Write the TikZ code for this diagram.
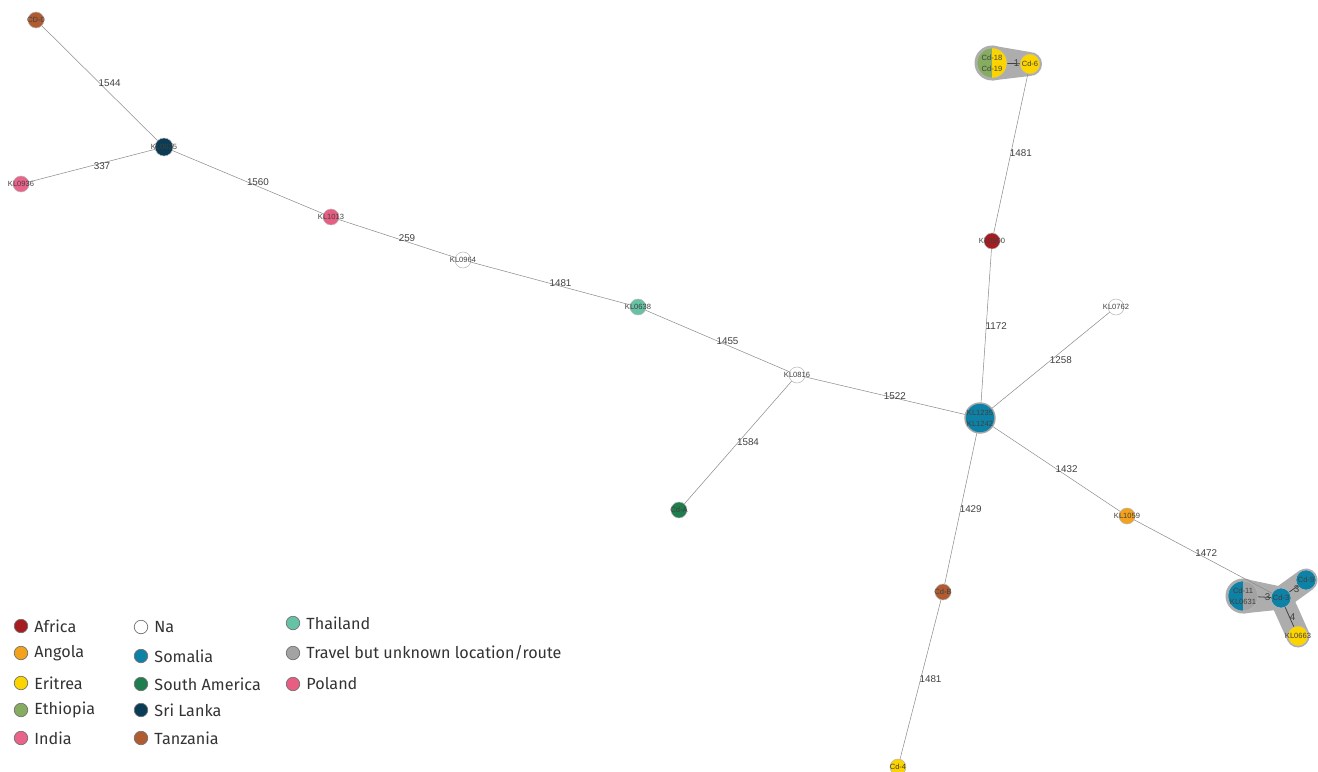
\documentclass[tikz,border=0pt]{standalone}
\usepackage{fontspec}
\setmainfont{Liberation Sans}
\newfontfamily\keyfamily{Fira Sans}
\usepackage{tikz}
\usetikzlibrary{positioning, backgrounds}

\definecolor{africa}{HTML}{A71C20}
\definecolor{angola}{HTML}{F4A11C}
\definecolor{eritrea}{HTML}{FCD400}
\definecolor{ethiopia}{HTML}{86AC62}
\definecolor{india}{HTML}{E9638A}
\definecolor{somalia}{HTML}{0E82A6}
\definecolor{southamerica}{HTML}{1F7D4E}
\definecolor{srilanka}{HTML}{0B3C55}
\definecolor{tanzania}{HTML}{B15B31}
\definecolor{thailand}{HTML}{66C2A5}
\definecolor{travel}{HTML}{A3A3A3}
\definecolor{poland}{HTML}{E75E82}

\newcommand{\nodefont}{\fontsize{4.3}{6.2}\selectfont}
\newcommand{\weightfont}{\fontsize{5.6}{6.5}\selectfont}
\newcommand{\keyfont}{\keyfamily\fontsize{9.2}{11}\selectfont}

\tikzstyle{isolate} = [circle, draw=black!28, line width=0.3pt, minimum size=0.32cm, inner sep=0pt]
\tikzstyle{midisolate} = [isolate, minimum size=0.4cm]
\tikzstyle{bigisolate} = [isolate, minimum size=0.6cm]
\tikzstyle{tag} = [font=\nodefont, text=black!75, inner sep=0pt, align=center]
\tikzstyle{link} = [draw=black!45, line width=0.3pt]
\tikzstyle{innerlink} = [draw=black!75, line width=0.45pt]
\tikzstyle{weight} = [font=\weightfont, text=black!75, inner sep=0.5pt, xshift=0.2cm]
\tikzstyle{innerweight} = [font=\weightfont, text=black!75, inner sep=0.5pt, xshift=0.06cm]
\tikzstyle{hull} = [fill=black!32]
\tikzstyle{keydot} = [circle, draw=black!55, line width=0.4pt, minimum size=0.27cm, inner sep=0pt]
\tikzstyle{keytext} = [font=\keyfont, text=black!80, inner sep=0pt]

\begin{document}
\begin{tikzpicture}[x=0.02cm, y=-0.02cm]
	\useasboundingbox (0,0) rectangle (1318,771);

	% left branch
	\node (cd0) [isolate, fill=tanzania, label={[tag]center:CD-0}] at (36,20) {};
	\node (kl0625) [isolate, minimum size=0.36cm, fill=srilanka, label={[tag]center:KL0625}] at (164,147) {};
	\node (kl0936) [isolate, fill=india, label={[tag]center:KL0936}] at (21,184) {};
	\node (kl1013) [isolate, fill=poland, label={[tag]center:KL1013}] at (331,217) {};
	\node (kl0964) [isolate, fill=white, label={[tag]center:KL0964}] at (463,260) {};
	\node (kl0638) [isolate, fill=thailand, label={[tag]center:KL0638}] at (638,307) {};
	\node (kl0816) [isolate, fill=white, label={[tag]center:KL0816}] at (797,375) {};
	\node (cdA) [isolate, fill=southamerica, label={[tag]center:Cd-A}] at (679,510) {};

	% centre and right branches
	\node (kl1235) [bigisolate, fill=somalia, draw=black!35, line width=0.8pt, label={[tag]center:KL1235\\KL1242}] at (980,418) {};
	\node (kl0900) [isolate, fill=africa, label={[tag]center:KL0900}] at (992,241) {};
	\node (kl0762) [isolate, fill=white, label={[tag]center:KL0762}] at (1116,307) {};
	\node (kl1059) [isolate, fill=angola, label={[tag]center:KL1059}] at (1127,516) {};
	\node (cdB) [isolate, fill=tanzania, label={[tag]center:Cd-B}] at (943,592) {};
	\node (cd4) [isolate, fill=eritrea, label={[tag]center:Cd-4}] at (898,767) {};

	% top cluster
	\node (cd18) [bigisolate, fill=ethiopia, path picture={\fill[eritrea] (path picture bounding box.north) rectangle (path picture bounding box.south east);}, label={[tag]center:Cd-18\\Cd-19}] at (992,63) {};
	\node (cd6) [midisolate, fill=eritrea, label={[tag]center:Cd-6}] at (1030,64) {};

	% bottom right cluster
	\node (cd11) [bigisolate, fill=travel, path picture={\fill[somalia] (path picture bounding box.north west) rectangle (path picture bounding box.south);}, label={[tag]center:Cd-11\\KL0631}] at (1243,596) {};
	\node (cd3) [midisolate, fill=somalia, label={[tag]center:Cd-3}] at (1281,598) {};
	\node (cd9) [midisolate, fill=somalia, label={[tag]center:Cd-9}] at (1306,580) {};
	\node (kl0663) [midisolate, fill=eritrea, label={[tag]center:KL0663}] at (1298,636) {};

	\begin{pgfonlayer}{background}
		\fill [hull] (cd18.center) circle (0.35cm);
		\fill [hull] (cd6.center) circle (0.24cm);
		\fill [hull] ([yshift=0.35cm]cd18.center) -- ([yshift=0.24cm]cd6.center) -- ([yshift=-0.24cm]cd6.center) -- ([yshift=-0.35cm]cd18.center) -- cycle;
		\fill [hull] (cd11.center) circle (0.35cm);
		\fill [hull] ([yshift=0.35cm]cd11.center) -- ([yshift=0.23cm]cd3.center) -- ([yshift=-0.23cm]cd3.center) -- ([yshift=-0.35cm]cd11.center) -- cycle;
		\draw [draw=black!32, line width=0.46cm, line cap=round] (cd3.center) -- (cd9.center);
		\draw [draw=black!32, line width=0.46cm, line cap=round] (cd3.center) -- (kl0663.center);
	\end{pgfonlayer}

	\draw [link] (cd0) -- node[weight] {1544} (kl0625);
	\draw [link] (kl0936) -- node[weight] {337} (kl0625);
	\draw [link] (kl0625) -- node[weight] {1560} (kl1013);
	\draw [link] (kl1013) -- node[weight] {259} (kl0964);
	\draw [link] (kl0964) -- node[weight] {1481} (kl0638);
	\draw [link] (kl0638) -- node[weight] {1455} (kl0816);
	\draw [link] (kl0816) -- node[weight] {1584} (cdA);
	\draw [link] (kl0816) -- node[weight] {1522} (kl1235);
	\draw [link] (kl1235) -- node[weight] {1172} (kl0900);
	\draw [link] (kl0900) -- node[weight] {1481} (cd6);
	\draw [link] (kl1235) -- node[weight] {1258} (kl0762);
	\draw [link] (kl1235) -- node[weight] {1432} (kl1059);
	\draw [link] (kl1235) -- node[weight] {1429} (cdB);
	\draw [link] (cdB) -- node[weight] {1481} (cd4);
	\draw [link] (kl1059) -- node[weight, pos=0.45] {1472} (cd3);
	\draw [innerlink] (cd18) -- node[innerweight] {1} (cd6);
	\draw [innerlink] (cd11) -- node[innerweight] {3} (cd3);
	\draw [innerlink] (cd3) -- node[innerweight] {3} (cd9);
	\draw [innerlink] (cd3) -- node[innerweight] {4} (kl0663);

	% legend
	\node (keyAfrica) [keydot, fill=africa] at (21,626) {};
	\node [keytext, right=0.12cm of keyAfrica] {Africa};
	\node (keyAngola) [keydot, fill=angola] at (21,653) {};
	\node [keytext, right=0.12cm of keyAngola] {Angola};
	\node (keyEritrea) [keydot, fill=eritrea] at (21,683) {};
	\node [keytext, right=0.12cm of keyEritrea] {Eritrea};
	\node (keyEthiopia) [keydot, fill=ethiopia] at (21,710) {};
	\node [keytext, right=0.12cm of keyEthiopia] {Ethiopia};
	\node (keyIndia) [keydot, fill=india] at (21,738) {};
	\node [keytext, right=0.12cm of keyIndia] {India};

	\node (keyNa) [keydot, fill=white] at (141,627) {};
	\node [keytext, right=0.12cm of keyNa] {Na};
	\node (keySomalia) [keydot, fill=somalia] at (141,656) {};
	\node [keytext, right=0.12cm of keySomalia] {Somalia};
	\node (keySouth) [keydot, fill=southamerica] at (141,684) {};
	\node [keytext, right=0.12cm of keySouth] {South America};
	\node (keySri) [keydot, fill=srilanka] at (141,710) {};
	\node [keytext, right=0.12cm of keySri] {Sri Lanka};
	\node (keyTanzania) [keydot, fill=tanzania] at (141,738) {};
	\node [keytext, right=0.12cm of keyTanzania] {Tanzania};

	\node (keyThailand) [keydot, fill=thailand] at (293,623) {};
	\node [keytext, right=0.12cm of keyThailand] {Thailand};
	\node (keyTravel) [keydot, fill=travel] at (293,653) {};
	\node [keytext, right=0.12cm of keyTravel] {Travel but unknown location/route};
	\node (keyPoland) [keydot, fill=poland] at (293,684) {};
	\node [keytext, right=0.12cm of keyPoland] {Poland};
\end{tikzpicture}
\end{document}
